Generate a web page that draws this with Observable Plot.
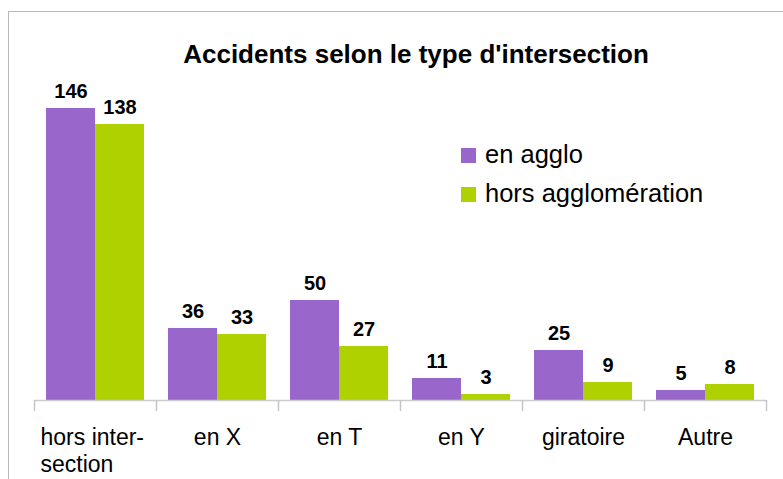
<!DOCTYPE html>
<html>
<head>
<meta charset="utf-8">
<script src="https://cdn.jsdelivr.net/npm/d3@7"></script>
<script src="https://cdn.jsdelivr.net/npm/@observablehq/plot@0.6"></script>
<style>
  html, body { margin: 0; padding: 0; background: #fff; overflow: hidden; }
  #wrap { position: relative; width: 783px; height: 479px; font-family: "Liberation Sans", Arial, sans-serif; }
  #frame { position: absolute; left: 8px; top: 11px; width: 800px; height: 500px; border-left: 1px solid #b8b8b8; border-top: 1px solid #b8b8b8; box-sizing: border-box; }
  #title { position: absolute; left: 416px; top: 41px; transform: translateX(-50%); white-space: nowrap; font-weight: bold; font-size: 26px; line-height: 26px; color: #000; }
  #chart { position: absolute; left: 0; top: 0; }
  .leg { position: absolute; left: 461px; height: 26px; white-space: nowrap; font-size: 25.5px; line-height: 25.5px; color: #000; }
  .leg .sw { position: absolute; left: 0; width: 15px; height: 15px; }
  .leg .tx { position: absolute; left: 24px; top: 0; }
</style>
</head>
<body>
<div id="wrap">
  <div id="frame"></div>
  <div id="chart"></div>
  <div id="title">Accidents selon le type d'intersection</div>
</div>
<script>
const categories = ["hors intersection", "en X", "en T", "en Y", "giratoire", "Autre"];
const tickLabels = ["hors inter-\nsection", "en X", "en T", "en Y", "giratoire", "Autre"];
const series = ["en agglo", "hors agglomération"];
const enAgglo = [146, 36, 50, 11, 25, 5];
const horsAgglo = [138, 33, 27, 3, 9, 8];
const colors = ["#9966cc", "#b0d100"];

const data = [];
categories.forEach((c, i) => {
  data.push({cat: c, series: series[0], value: enAgglo[i]});
  data.push({cat: c, series: series[1], value: horsAgglo[i]});
});
const labelOf = new Map(categories.map((c, i) => [c, tickLabels[i]]));
const axisStyle = {anchor: "bottom", tickSize: 0, tickPadding: 26, fontSize: 23, lineHeight: 1.15, label: null, tickFormat: d => labelOf.get(d), fill: "#000"};

const plot = Plot.plot({
  width: 783,
  height: 479,
  marginLeft: 34,
  marginRight: 17,
  marginTop: 108,
  marginBottom: 79,
  style: {fontFamily: "'Liberation Sans', Arial, sans-serif", background: "transparent", overflow: "visible"},
  fx: {domain: categories, padding: 0, label: null, axis: null},
  x: {domain: series, padding: 0, insetLeft: 12, insetRight: 12, axis: null},
  y: {domain: [0, 146], axis: null},
  color: {domain: series, range: colors},
  marks: [
    Plot.barY(data, {fx: "cat", x: "series", y: "value", fill: "series"}),
    Plot.ruleY([0], {stroke: "#cccccc", strokeWidth: 1.5}),
    Plot.ruleX(categories, {fx: d => d, x: () => series[0], y1: 0, y2: 0, insetBottom: -11, dx: -36.5, stroke: "#c4c4c4", strokeWidth: 1.5}),
    Plot.ruleX(categories.slice(-1), {fx: d => d, x: () => series[1], y1: 0, y2: 0, insetBottom: -11, dx: 36.5, stroke: "#c4c4c4", strokeWidth: 1.5}),
    Plot.text(data, {fx: "cat", x: "series", y: "value", text: d => String(d.value), lineAnchor: "bottom", dy: -11, fontSize: 20, fontWeight: "bold", fill: "#000"}),
    Plot.axisFx({...axisStyle, ticks: categories.slice(1)}),
    Plot.axisFx({...axisStyle, ticks: categories.slice(0, 1), textAnchor: "start", dx: -55})
  ]
});
document.getElementById("chart").appendChild(plot);

const wrap = document.getElementById("wrap");
series.forEach((s, i) => {
  const item = document.createElement("div");
  item.className = "leg";
  item.style.top = (142 + i * 39) + "px";
  const sw = document.createElement("div");
  sw.className = "sw";
  sw.style.top = "6px";
  sw.style.background = colors[i];
  const tx = document.createElement("div");
  tx.className = "tx";
  tx.textContent = s;
  item.appendChild(sw);
  item.appendChild(tx);
  wrap.appendChild(item);
});
</script>
</body>
</html>
